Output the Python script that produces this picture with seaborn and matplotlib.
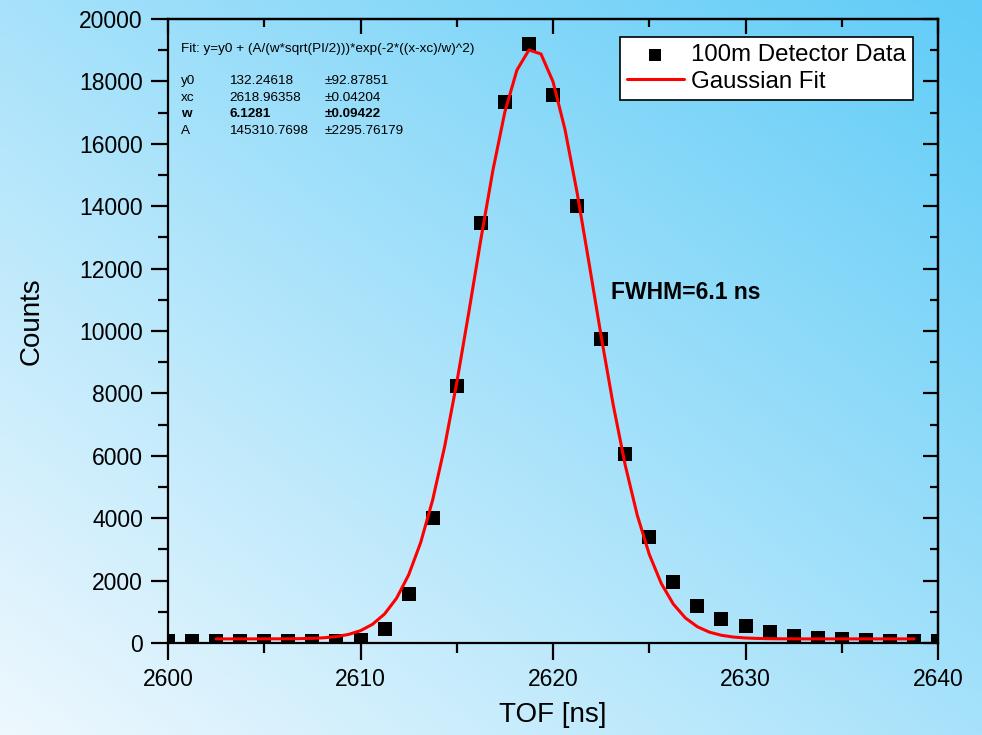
import numpy as np
import pandas as pd
import matplotlib
matplotlib.use("Agg")
import matplotlib.pyplot as plt
from matplotlib.ticker import MultipleLocator
import seaborn as sns

# ---------------- data ----------------
tof = [2600.0, 2601.25, 2602.5, 2603.75, 2605.0, 2606.25, 2607.5, 2608.75,
       2610.0, 2611.25, 2612.5, 2613.75, 2615.0, 2616.25, 2617.5, 2618.75,
       2620.0, 2621.25, 2622.5, 2623.75, 2625.0, 2626.25, 2627.5, 2628.75,
       2630.0, 2631.25, 2632.5, 2633.75, 2635.0, 2636.25, 2637.5, 2638.75,
       2640.0]
counts = [50, 50, 50, 50, 50, 50, 50, 60,
          110, 450, 1560, 4010, 8250, 13450, 17330, 19200,
          17570, 14000, 9740, 6050, 3390, 1950, 1170, 760,
          530, 350, 210, 160, 120, 100, 80, 70,
          60]

fit_x = [2602.5, 2603.125, 2603.75, 2604.375, 2605.0, 2605.625, 2606.25, 2606.875,
         2607.5, 2608.125, 2608.75, 2609.375, 2610.0, 2610.625, 2611.25, 2611.875,
         2612.5, 2613.125, 2613.75, 2614.375, 2615.0, 2615.625, 2616.25, 2616.875,
         2617.5, 2618.125, 2618.75, 2619.375, 2620.0, 2620.625, 2621.25, 2621.875,
         2622.5, 2623.125, 2623.75, 2624.375, 2625.0, 2625.625, 2626.25, 2626.875,
         2627.5, 2628.125, 2628.75, 2629.375, 2630.0, 2630.625, 2631.25, 2631.875,
         2632.5, 2633.125, 2633.75, 2634.375, 2635.0, 2635.625, 2636.25, 2636.875,
         2637.5, 2638.125, 2638.75]
fit_y = [132, 132, 132, 132, 133, 134, 135, 140,
         149, 169, 205, 274, 395, 600, 930, 1437,
         2181, 3218, 4589, 6307, 8340, 10595, 12928, 15141,
         17022, 18361, 19008, 18879, 17993, 16455, 14441, 12166,
         9838, 7642, 5706, 4101, 2843, 1908, 1248, 804,
         521, 348, 247, 190, 161, 146, 138, 135,
         133, 132, 132, 132, 132, 132, 132, 132,
         132, 132, 132]

fit_title = "Fit: y=y0 + (A/(w*sqrt(PI/2)))*exp(-2*((x-xc)/w)^2)"
param_names = ["y0", "xc", "w", "A"]
param_values = ["132.24618", "2618.96358", "6.1281", "145310.7698"]
param_errors = ["\u00b192.87851", "\u00b10.04204", "\u00b10.09422", "\u00b12295.76179"]
fwhm_text = "FWHM=6.1 ns"

df_data = pd.DataFrame({"TOF": tof, "Counts": counts})
df_fit = pd.DataFrame({"TOF": fit_x, "Counts": fit_y})

# ---------------- style ----------------
sns.set_style("ticks")
plt.rcParams["font.family"] = ["Liberation Sans", "DejaVu Sans"]
plt.rcParams["axes.linewidth"] = 1.6
for key in ["text.color", "axes.labelcolor", "xtick.color", "ytick.color",
            "axes.edgecolor", "xtick.labelcolor", "ytick.labelcolor"]:
    plt.rcParams[key] = "black"

W, H = 982, 735
fig = plt.figure(figsize=(W / 100, H / 100), dpi=100)

# gradient background (bottom-left pale -> top-right cyan)
bg = fig.add_axes([0, 0, 1, 1], zorder=-10)
gx = np.linspace(0, 1, 400)[None, :]
gy = np.linspace(1, 0, 300)[:, None]
t = (gx + gy) / 2.0
c0 = np.array([238, 248, 254]) / 255.0
c1 = np.array([96, 204, 247]) / 255.0
img = c0[None, None, :] + t[:, :, None] * (c1 - c0)[None, None, :]
bg.imshow(img, aspect="auto", extent=[0, 1, 0, 1], interpolation="bilinear")
bg.set_axis_off()

x0, x1 = 168 / W, 938 / W
y0, y1 = (H - 643) / H, (H - 19) / H
ax = fig.add_axes([x0, y0, x1 - x0, y1 - y0])
ax.set_facecolor("none")

sns.lineplot(data=df_fit, x="TOF", y="Counts", ax=ax, color="#ff0000",
             linewidth=2.2, zorder=4, label="Gaussian Fit", legend=False)
sns.scatterplot(data=df_data, x="TOF", y="Counts", ax=ax, marker="s", s=88,
                color="black", linewidth=0, zorder=3, label="100m Detector Data",
                legend=False)

ax.set_xlim(2600, 2640)
ax.set_ylim(0, 20000)
ax.xaxis.set_major_locator(MultipleLocator(10))
ax.xaxis.set_minor_locator(MultipleLocator(5))
ax.yaxis.set_major_locator(MultipleLocator(2000))
ax.yaxis.set_minor_locator(MultipleLocator(1000))
ax.tick_params(which="both", direction="out", width=1.6, color="black",
               labelcolor="black", labelsize=16.5, top=False, right=False)
ax.tick_params(which="major", length=12, pad=6)
ax.tick_params(which="minor", length=7)
for sp in ax.spines.values():
    sp.set_visible(True)
    sp.set_linewidth(1.6)
    sp.set_color("black")

# inward ticks on top and right
secx = ax.secondary_xaxis("top")
secx.xaxis.set_major_locator(MultipleLocator(10))
secx.xaxis.set_minor_locator(MultipleLocator(5))
secx.tick_params(which="both", direction="in", width=1.6, color="black",
                 labeltop=False)
secx.tick_params(which="major", length=11)
secx.tick_params(which="minor", length=6)
secx.spines["top"].set_linewidth(1.6)
secy = ax.secondary_yaxis("right")
secy.yaxis.set_major_locator(MultipleLocator(2000))
secy.yaxis.set_minor_locator(MultipleLocator(1000))
secy.tick_params(which="both", direction="in", width=1.6, color="black",
                 labelright=False)
secy.tick_params(which="major", length=11)
secy.tick_params(which="minor", length=6)
secy.spines["right"].set_linewidth(1.6)

ax.set_xlabel("TOF [ns]", fontsize=20, color="black")
ax.set_ylabel("Counts", fontsize=20, color="black")
ax.xaxis.set_label_coords(0.5, -0.095)
ax.yaxis.set_label_coords(-0.16, 0.515)

h, l = ax.get_legend_handles_labels()
order = [l.index("100m Detector Data"), l.index("Gaussian Fit")]
leg = ax.legend([h[i] for i in order], [l[i] for i in order],
                loc="upper right", bbox_to_anchor=(0.9675, 0.9712),
                borderaxespad=0, fontsize=17.3, frameon=True, fancybox=False,
                edgecolor="black", facecolor="white", framealpha=1,
                handlelength=2.35, handletextpad=0.3, borderpad=0.3,
                labelspacing=0.18, markerscale=0.85)
leg.get_frame().set_linewidth(1.2)
for txt in leg.get_texts():
    txt.set_color("black")

# fit parameter text block (figure pixel positions)
def fx(px):
    return px / W

def fy(py):
    return (H - py) / H

fig.text(fx(181), fy(49), fit_title, fontsize=9.7, va="center", ha="left",
         color="black")
rows_y = [81, 98, 114, 131]
for name, val, err, ry in zip(param_names, param_values, param_errors, rows_y):
    wgt = "bold" if name == "w" else "normal"
    fig.text(fx(181), fy(ry), name, fontsize=9.7, va="center", weight=wgt,
             color="black")
    fig.text(fx(229), fy(ry), val, fontsize=9.7, va="center", weight=wgt,
             color="black")
    fig.text(fx(325), fy(ry), err, fontsize=9.7, va="center", weight=wgt,
             color="black")

ax.text(2623.0, 11220, fwhm_text, fontsize=16.5, weight="bold",
        ha="left", va="center", color="black")

fig.savefig("out.png", dpi=100)
